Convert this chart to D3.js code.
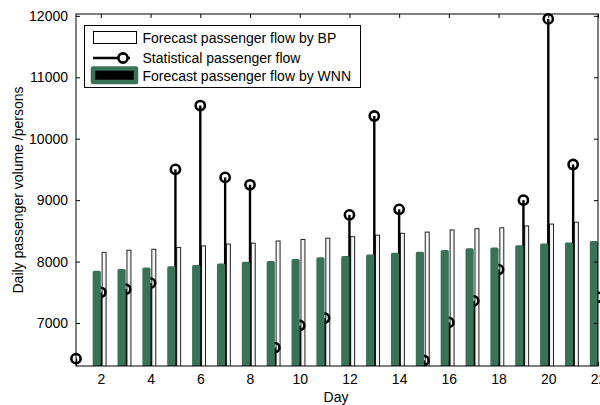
<!DOCTYPE html>
<html>
<head>
<meta charset="utf-8">
<script src="https://cdn.jsdelivr.net/npm/d3@7"></script>
<style>
  body { margin: 0; background: #fff; }
  svg { display: block; font-family: "Liberation Sans", Arial, sans-serif; }
</style>
</head>
<body>
<svg id="chart" width="600" height="405"></svg>
<script>
'use strict';

// values
var days = d3.range(1, 23);
var statFlow = [6420, 7500, 7550, 7650, 9500, 10540, 9370, 9250, 6600, 6960, 7080,
                8760, 10370, 8850, 6390, 7010, 7360, 7870, 9000, 11950, 9580, 7420];
var forecastDays = d3.range(2, 23);
var bpFlow = [8150, 8185, 8200, 8230, 8255, 8285, 8300, 8335, 8360, 8380, 8405,
              8430, 8460, 8480, 8515, 8535, 8550, 8580, 8610, 8640, 8660];
var wnnFlow = [7850, 7880, 7905, 7925, 7945, 7970, 7995, 8010, 8040, 8070, 8090,
               8115, 8145, 8160, 8190, 8215, 8230, 8265, 8295, 8310, 8335];
var xTicks = d3.range(2, 23, 2);
var yTicks = [7000, 8000, 9000, 10000, 11000, 12000];
var legendLabels = ['Forecast passenger flow by BP', 'Statistical passenger flow',
                    'Forecast passenger flow by WNN'];

(function() {
  var green = '#3a7258';
  var svg = d3.select('#chart');
  var left = 76, right = 598, top = 14, bottom = 366;

  var x = d3.scaleLinear().domain([1, 22]).range([left, right]);
  var y = d3.scaleLinear().domain([6300, 12030]).range([bottom, top]);
  var unit = x(2) - x(1);

  svg.append('clipPath').attr('id', 'plotClip')
    .append('rect')
    .attr('x', left).attr('y', top)
    .attr('width', right - left).attr('height', bottom - top);

  var plot = svg.append('g').attr('clip-path', 'url(#plotClip)');

  var bp = forecastDays.map(function(d, i) { return [d, bpFlow[i]]; });
  var wnn = forecastDays.map(function(d, i) { return [d, wnnFlow[i]]; });
  var stat = days.map(function(d, i) { return [d, statFlow[i]]; });

  // BP bars first, stems next, WNN bars on top (legend order)
  plot.selectAll('rect.bp')
    .data(bp)
    .enter().append('rect').attr('class', 'bp')
    .attr('x', function(d) { return x(d[0] + 0.03) + 0.5; })
    .attr('y', function(d) { return y(d[1]); })
    .attr('width', unit * 0.16)
    .attr('height', function(d) { return bottom - y(d[1]) + 2; })
    .attr('fill', '#f5f5f5')
    .attr('stroke', '#222')
    .attr('stroke-width', 1);

  plot.selectAll('line.stem')
    .data(stat)
    .enter().append('line').attr('class', 'stem')
    .attr('x1', function(d) { return x(d[0]); })
    .attr('x2', function(d) { return x(d[0]); })
    .attr('y1', bottom + 2)
    .attr('y2', function(d) { return y(d[1]); })
    .attr('stroke', '#000')
    .attr('stroke-width', 2.4);

  // markers are not clipped
  svg.append('g').selectAll('circle.marker')
    .data(stat)
    .enter().append('circle').attr('class', 'marker')
    .attr('cx', function(d) { return x(d[0]); })
    .attr('cy', function(d) { return y(d[1]); })
    .attr('r', 4.6)
    .attr('fill', 'none')
    .attr('stroke', '#000')
    .attr('stroke-width', 2.6);

  var wnnLayer = svg.append('g').attr('clip-path', 'url(#plotClip)');
  wnnLayer.selectAll('rect.wnn')
    .data(wnn)
    .enter().append('rect').attr('class', 'wnn')
    .attr('x', function(d) { return x(d[0] - 0.33) + 1.6; })
    .attr('y', function(d) { return y(d[1]) + 1.6; })
    .attr('width', unit * 0.33 - 3.2)
    .attr('height', function(d) { return bottom - y(d[1]); })
    .attr('fill', green)
    .attr('stroke', green)
    .attr('stroke-width', 3.2)
    .attr('stroke-linejoin', 'round');

  // axes box with inward ticks
  var axes = svg.append('g');
  axes.append('rect')
    .attr('x', left).attr('y', top)
    .attr('width', right - left).attr('height', bottom - top)
    .attr('fill', 'none').attr('stroke', '#000').attr('stroke-width', 1);

  axes.append('g').attr('transform', 'translate(0,' + bottom + ')')
    .call(d3.axisBottom(x).tickValues(xTicks).tickSizeInner(-4).tickSizeOuter(0).tickPadding(8));
  axes.append('g').attr('transform', 'translate(0,' + top + ')')
    .call(d3.axisTop(x).tickValues(xTicks).tickSizeInner(-4).tickSizeOuter(0).tickFormat(''));
  axes.append('g').attr('transform', 'translate(' + left + ',0)')
    .call(d3.axisLeft(y).tickValues(yTicks).tickFormat(d3.format('d'))
      .tickSizeInner(-4).tickSizeOuter(0).tickPadding(8));
  axes.append('g').attr('transform', 'translate(' + right + ',0)')
    .call(d3.axisRight(y).tickValues(yTicks).tickSizeInner(-4).tickSizeOuter(0).tickFormat(''));

  axes.selectAll('.domain').remove();
  axes.selectAll('.tick line').attr('stroke', '#000');
  axes.selectAll('.tick text')
    .attr('fill', '#000')
    .style('font-size', '14px')
    .style('font-family', '"Liberation Sans", Arial, sans-serif');

  svg.append('text')
    .attr('x', (left + right) / 2 - 1)
    .attr('y', 402)
    .attr('text-anchor', 'middle')
    .style('font-size', '14px')
    .text('Day');

  svg.append('text')
    .attr('transform', 'translate(23,' + (top + bottom) / 2 + ') rotate(-90)')
    .attr('text-anchor', 'middle')
    .style('font-size', '14px')
    .text('Daily passenger volume /persons');

  // legend
  var legend = svg.append('g');
  legend.append('rect')
    .attr('x', 84.5).attr('y', 25.5).attr('width', 276).attr('height', 62)
    .attr('fill', '#fff').attr('stroke', '#000').attr('stroke-width', 1);

  var rows = [37.5, 58, 76];
  legend.append('rect')
    .attr('x', 93.5).attr('y', 31.5).attr('width', 43).attr('height', 12)
    .attr('fill', '#fff').attr('stroke', '#000').attr('stroke-width', 1);
  legend.append('line')
    .attr('x1', 93).attr('x2', 130).attr('y1', rows[1]).attr('y2', rows[1])
    .attr('stroke', '#000').attr('stroke-width', 2.4);
  legend.append('circle')
    .attr('cx', 123).attr('cy', rows[1]).attr('r', 4.6)
    .attr('fill', '#fff').attr('stroke', '#000').attr('stroke-width', 2.6);
  legend.append('rect')
    .attr('x', 93).attr('y', 68.5).attr('width', 43).attr('height', 13.5)
    .attr('fill', '#000').attr('stroke', green).attr('stroke-width', 4.5)
    .attr('stroke-linejoin', 'round');

  legend.selectAll('text.entry')
    .data(legendLabels)
    .enter().append('text').attr('class', 'entry')
    .attr('x', 142.5)
    .attr('y', function(d, i) { return rows[i] + 5; })
    .style('font-size', '14px')
    .text(function(d) { return d; });
}());
</script>
</body>
</html>
